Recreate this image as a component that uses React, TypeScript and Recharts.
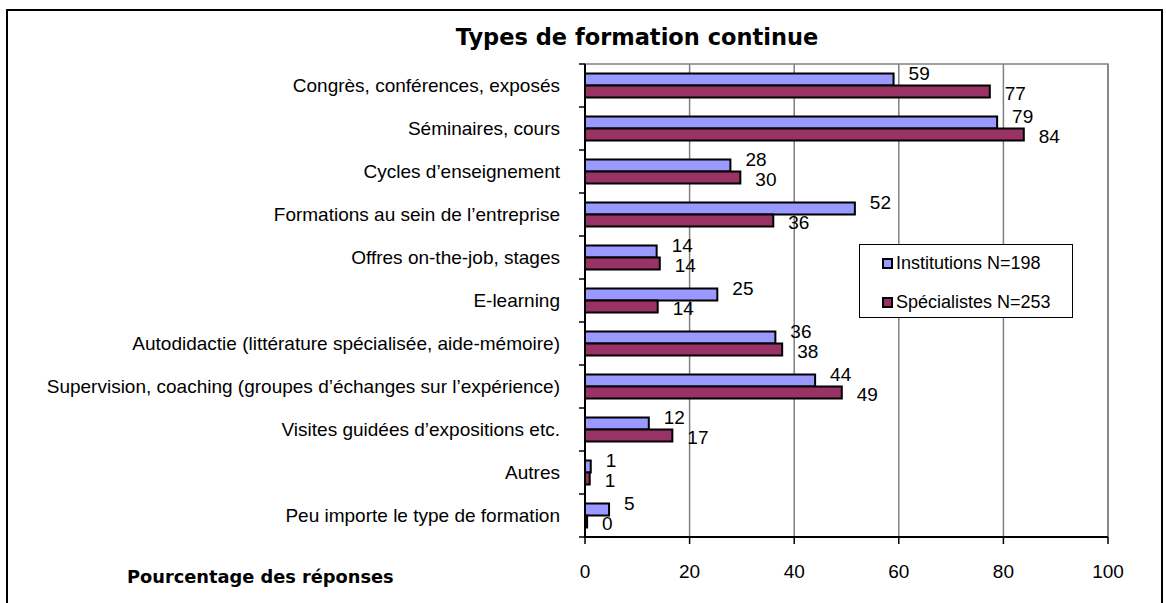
import React from "react";
import {
  BarChart,
  Bar,
  XAxis,
  YAxis,
  CartesianGrid,
  LabelList,
  ReferenceArea,
} from "recharts";

const categories = [
  "Congrès, conférences, exposés",
  "Séminaires, cours",
  "Cycles d’enseignement",
  "Formations au sein de l’entreprise",
  "Offres on-the-job, stages",
  "E-learning",
  "Autodidactie (littérature spécialisée, aide-mémoire)",
  "Supervision, coaching (groupes d’échanges sur l’expérience)",
  "Visites guidées d’expositions etc.",
  "Autres",
  "Peu importe le type de formation",
];

const institutions = [59.0, 78.8, 27.8, 51.6, 13.7, 25.3, 36.4, 44.0, 12.2, 1.1, 4.6];
const specialistes = [77.4, 83.9, 29.7, 36.0, 14.3, 13.9, 37.7, 49.1, 16.7, 0.9, 0.4];

const xTicks = [0, 20, 40, 60, 80, 100];

const seriesNames = ["Institutions N=198", "Spécialistes N=253"];
const seriesColors = ["#9999FF", "#993366"];

const title = "Types de formation continue";
const xTitle = "Pourcentage des réponses";

const data = categories.map((c, i) => ({
  cat: c,
  inst: institutions[i],
  spec: specialistes[i],
}));

const FONT = "'Liberation Sans', Arial, Helvetica, sans-serif";
const BOLD_FONT = "'DejaVu Sans', 'Liberation Sans', Arial, sans-serif";
const Y_TICK_SIZE = 6;
const Y_TICK_MARGIN = 19;

const YTick = (props: any) => {
  const { x, y, payload, index, visibleTicksCount } = props;
  const off = payload.offset || 0;
  const axisX = x + Y_TICK_SIZE + Y_TICK_MARGIN;
  const last = index === visibleTicksCount - 1;
  return (
    <g>
      <text
        x={x}
        y={y}
        textAnchor="end"
        dominantBaseline="central"
        fontFamily={FONT}
        fontSize={19}
        fill="#000"
      >
        {payload.value}
      </text>
      <line x1={axisX - Y_TICK_SIZE} x2={axisX} y1={y - off} y2={y - off} stroke="#000" strokeWidth={1.5} />
      {last && (
        <line x1={axisX - Y_TICK_SIZE} x2={axisX} y1={y + off} y2={y + off} stroke="#000" strokeWidth={1.5} />
      )}
    </g>
  );
};

const makeLabel = (dy: number) => (props: any) => {
  const { x, y, width, height, value } = props;
  return (
    <text
      x={x + width + 15}
      y={y + height / 2 + dy}
      dominantBaseline="central"
      fontFamily={FONT}
      fontSize={19}
      fill="#000"
    >
      {Math.round(value)}
    </text>
  );
};

const LegendBox = () => (
  <div
    style={{
      position: "absolute",
      left: 859,
      top: 244,
      width: 214,
      height: 74,
      border: "1px solid #000",
      background: "#fff",
      fontFamily: FONT,
      fontSize: 18,
      color: "#000",
      boxSizing: "border-box",
    }}
  >
    {seriesNames.map((n, i) => (
      <div
        key={n}
        style={{
          position: "absolute",
          left: 22,
          top: i === 0 ? 8 : 47,
          display: "flex",
          alignItems: "center",
          whiteSpace: "nowrap",
          lineHeight: "20px",
        }}
      >
        <span
          style={{
            display: "inline-block",
            width: 7,
            height: 7,
            background: seriesColors[i],
            border: "2px solid #000",
            marginRight: 3,
          }}
        />
        <span>{n}</span>
      </div>
    ))}
  </div>
);

export default function App() {
  return (
    <div
      style={{
        position: "absolute",
        left: 0,
        top: 0,
        width: 1166,
        height: 603,
        overflow: "hidden",
        background: "#fff",
      }}
    >
      <div
        style={{
          position: "absolute",
          left: 6,
          top: 9,
          width: 1157,
          height: 640,
          border: "2px solid #000",
          boxSizing: "border-box",
        }}
      />
      <div
        style={{
          position: "absolute",
          left: 0,
          width: 1274,
          top: 24,
          textAlign: "center",
          fontFamily: BOLD_FONT,
          fontWeight: "bold",
          fontSize: 22.5,
          color: "#000",
          whiteSpace: "nowrap",
        }}
      >
        {title}
      </div>
      <div
        style={{
          position: "absolute",
          left: 127,
          top: 566,
          fontFamily: BOLD_FONT,
          fontWeight: "bold",
          fontSize: 17.8,
          color: "#000",
          whiteSpace: "nowrap",
        }}
      >
        {xTitle}
      </div>
      <div style={{ position: "absolute", left: 0, top: 0 }}>
        <BarChart
          width={1166}
          height={603}
          data={data}
          layout="vertical"
          margin={{ top: 64, right: 58, bottom: 0, left: 0 }}
          barCategoryGap="22%"
          barGap={0}
        >
          <CartesianGrid horizontal={false} vertical={true} stroke="#808080" strokeWidth={1.5} />
          <ReferenceArea
            x1={0}
            x2={100}
            y1={categories[0]}
            y2={categories[categories.length - 1]}
            fill="none"
            stroke="#808080"
            strokeWidth={1.5}
            ifOverflow="visible"
          />
          <XAxis
            type="number"
            domain={[0, 100]}
            ticks={xTicks}
            interval={0}
            height={66}
            axisLine={{ stroke: "#000", strokeWidth: 2 }}
            tickLine={{ stroke: "#000", strokeWidth: 1.5 }}
            tickSize={7}
            tickMargin={21}
            tick={{ fill: "#000", fontSize: 19, fontFamily: FONT }}
          />
          <YAxis
            type="category"
            dataKey="cat"
            width={585}
            interval={0}
            axisLine={{ stroke: "#000", strokeWidth: 2 }}
            tickLine={false}
            tickSize={Y_TICK_SIZE}
            tickMargin={Y_TICK_MARGIN}
            tick={<YTick />}
          />
          <Bar
            dataKey="inst"
            name={seriesNames[0]}
            fill={seriesColors[0]}
            stroke="#000"
            strokeWidth={2}
            isAnimationActive={false}
          >
            <LabelList dataKey="inst" content={makeLabel(-6)} />
          </Bar>
          <Bar
            dataKey="spec"
            name={seriesNames[1]}
            fill={seriesColors[1]}
            stroke="#000"
            strokeWidth={2}
            isAnimationActive={false}
          >
            <LabelList dataKey="spec" content={makeLabel(2)} />
          </Bar>
        </BarChart>
      </div>
      <LegendBox />
    </div>
  );
}
